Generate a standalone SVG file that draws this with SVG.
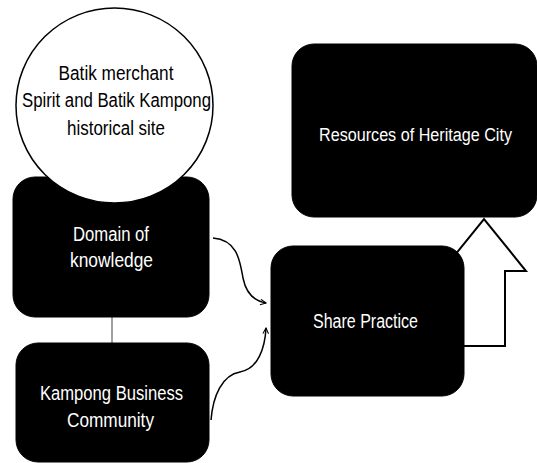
<svg xmlns="http://www.w3.org/2000/svg" width="537" height="463" viewBox="0 0 537 463">
<style>
.box{fill:#000;stroke:#000;stroke-width:1}
.wt{fill:#fff;font-family:"Liberation Sans",Arial,sans-serif;font-size:20px;text-anchor:middle}
.bt{fill:#000;font-family:"Liberation Sans",Arial,sans-serif;font-size:20px;text-anchor:middle}
.con{fill:none;stroke:#000;stroke-width:1.5}
</style>
<defs>
<marker id="ah" viewBox="0 0 10 10" refX="9" refY="5" markerWidth="7" markerHeight="7" markerUnits="userSpaceOnUse" orient="auto">
<path d="M1,1 L9,5 L1,9" fill="none" stroke="#000" stroke-width="1.5"/>
</marker>
</defs>
<rect width="537" height="463" fill="#fff"/>
<g id="connectors">
<line x1="112" y1="317" x2="112" y2="343" stroke="#808080" stroke-width="1.5"/>
<path class="con" d="M213,238 C238,240 240,262 243,278 C246,293 254,301 266,303" marker-end="url(#ah)"/>
<path class="con" d="M211,420 C213,396 222,375 240,372 C258,369 265,348 266,328" marker-end="url(#ah)"/>
<polygon points="463,346 505,346 505,271 526,271 484,219 442,271 463,271" fill="#fff" stroke="#000" stroke-width="2"/>
</g>
<g id="resources">
<rect class="box" x="292" y="44" width="245" height="173" rx="22"/>
<text class="wt" x="415.5" y="141" font-size="18" style="font-size:18px" textLength="193" lengthAdjust="spacingAndGlyphs">Resources of Heritage City</text>
</g>
<g id="domain">
<rect class="box" x="13" y="177" width="196" height="140" rx="22"/>
<text class="wt" x="111" y="241" textLength="76" lengthAdjust="spacingAndGlyphs">Domain of</text>
<text class="wt" x="111.5" y="267" textLength="83" lengthAdjust="spacingAndGlyphs">knowledge</text>
</g>
<g id="spirit">
<ellipse cx="114.5" cy="105.5" rx="98.5" ry="97.5" fill="#fff" stroke="#000" stroke-width="1.5"/>
<text class="bt" x="116" y="80" textLength="115" lengthAdjust="spacingAndGlyphs">Batik merchant</text>
<text class="bt" x="116.5" y="107" textLength="189" lengthAdjust="spacingAndGlyphs">Spirit and Batik Kampong</text>
<text class="bt" x="116" y="135" textLength="98" lengthAdjust="spacingAndGlyphs">historical site</text>
</g>
<g id="kampong">
<rect class="box" x="16" y="343" width="193" height="119" rx="22"/>
<text class="wt" x="111.5" y="400" textLength="143" lengthAdjust="spacingAndGlyphs">Kampong  Business</text>
<text class="wt" x="110.5" y="427" textLength="87" lengthAdjust="spacingAndGlyphs">Community</text>
</g>
<g id="share">
<rect class="box" x="271" y="246" width="193" height="150" rx="22"/>
<text class="wt" x="365.5" y="328" textLength="105" lengthAdjust="spacingAndGlyphs">Share Practice</text>
</g>
</svg>
